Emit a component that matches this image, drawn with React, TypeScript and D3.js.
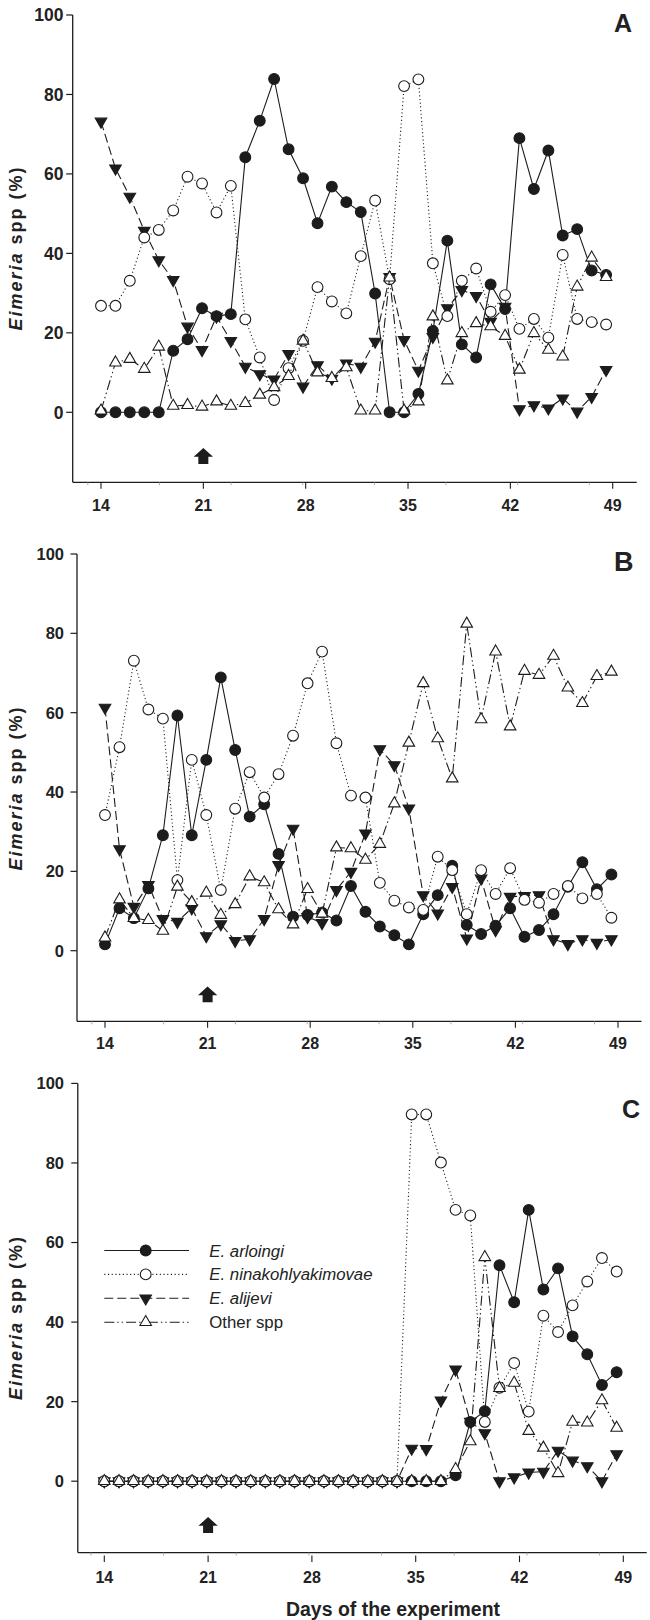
import React from 'react';
import * as d3 from 'd3';

// ---------- data ----------
const days = [
  14.0, 14.99, 15.97, 16.96, 17.95, 18.94, 19.92, 20.91, 21.9, 22.88, 23.87, 24.86,
  25.84, 26.83, 27.82, 28.81, 29.79, 30.78, 31.77, 32.75, 33.74, 34.73, 35.71, 36.7,
  37.69, 38.68, 39.66, 40.65, 41.64, 42.62, 43.61, 44.6, 45.58, 46.57, 47.56, 48.55,
];
const xTickDays = [14, 21, 28, 35, 42, 49];
const xMinorDays = [13.1, 18.0, 22.9, 27.8, 32.7, 37.6, 42.5, 47.4];
const yTickValues = [0, 20, 40, 60, 80, 100];
const arrowDay = 21;

const seriesNames = ['E. arloingi', 'E. ninakohlyakimovae', 'E. alijevi', 'Other spp'];

const arloingiA = [0, 0, 0, 0, 0, 15.5, 18.4, 26.2, 24.2, 24.7, 64.2, 73.4, 83.9, 66.2, 58.9, 47.6, 56.8, 52.9, 50.4, 29.9, 0, 0, 4.6, 20.5, 43.2, 17.1, 13.8, 32.2, 26, 69.0, 56.2, 65.9, 44.5, 46.1, 35.7, 34.6];
const ninakA = [26.8, 26.8, 33.1, 44.0, 45.9, 50.8, 59.3, 57.6, 50.3, 57.0, 23.4, 13.8, 3.1, 11.1, 18.0, 31.5, 27.9, 24.9, 39.3, 53.3, 33.5, 82.1, 83.8, 37.5, 24.2, 33.1, 36.2, 25.3, 29.5, 21.0, 23.5, 18.8, 39.6, 23.5, 22.7, 22.1];
const alijeviA = [73.2, 61.4, 54.3, 45.7, 38.3, 33.3, 21.6, 15.7, 24.1, 18.0, 11.5, 9.6, 8.3, 14.7, 6.5, 11.9, 8.5, 12.3, 11.5, 17.8, 34.1, 18.2, 10.5, 19, 26.2, 30.8, 29.3, 22.8, 26.6, 0.8, 1.8, 1.0, 3.5, 0.2, 3.9, 10.7];
const otherA = [0.4, 12.5, 13.4, 10.9, 16.5, 1.6, 1.8, 1.4, 2.7, 1.6, 2.3, 4.4, 6.3, 9.1, 18.0, 10.0, 8.6, 11.3, 0.4, 0.4, 33.9, 0.4, 2.7, 24.1, 8.0, 19.9, 22.4, 21.6, 19.2, 10.7, 19.9, 15.7, 14.0, 31.6, 38.9, 34.0];

const arloingiB = [1.6, 10.7, 8.2, 15.7, 29.1, 59.3, 29.1, 48.1, 68.9, 50.6, 33.8, 36.9, 24.4, 8.6, 9.0, 9.6, 7.6, 16.3, 9.8, 6.1, 3.9, 1.6, 9.2, 14.0, 21.4, 6.5, 4.2, 6.3, 10.7, 3.5, 5.2, 9.2, 16.1, 22.3, 15.5, 19.2];
const ninakB = [34.2, 51.3, 73.1, 60.8, 58.5, 17.8, 48.1, 34.2, 15.3, 35.8, 45.0, 38.6, 44.5, 54.2, 67.4, 75.4, 52.3, 39.1, 38.6, 17.1, 12.6, 10.9, 10.3, 23.7, 20.3, 9.2, 20.3, 14.3, 20.8, 12.8, 12.1, 14.3, 16.3, 13.2, 14.3, 8.3];
const alijeviB = [61.3, 25.6, 11.1, 16.6, 8.0, 7.3, 10.7, 3.7, 6.7, 2.5, 2.9, 8.0, 21.6, 30.8, 8.5, 7.0, 15.3, 19.9, 29.6, 50.8, 46.8, 35.9, 14.0, 9.4, 16.1, 3.1, 18.2, 5.2, 13.6, 13.8, 14.0, 2.9, 1.7, 2.9, 2.0, 2.9];
const otherB = [3.3, 12.9, 8.2, 7.7, 5.0, 16.1, 12.2, 14.6, 9.0, 11.7, 18.7, 17.2, 10.4, 6.6, 15.5, 9.3, 26.0, 25.8, 22.9, 26.9, 37.1, 52.4, 67.4, 53.5, 43.4, 82.4, 58.3, 75.4, 56.5, 70.5, 69.5, 74.3, 66.3, 62.4, 69.2, 70.3];

const arloingiC = [0, 0, 0, 0, 0, 0, 0, 0, 0, 0, 0, 0, 0, 0, 0, 0, 0, 0, 0, 0, 0, 0, 0, 0, 1.5, 14.9, 17.6, 54.3, 45.0, 68.2, 48.2, 53.5, 36.4, 31.9, 24.2, 27.4];
const ninakC = [0, 0, 0, 0, 0, 0, 0, 0, 0, 0, 0, 0, 0, 0, 0, 0, 0, 0, 0, 0, 0, 92.2, 92.2, 80.1, 68.2, 66.8, 14.9, 23.5, 29.7, 17.5, 41.6, 37.5, 44.2, 50.2, 56.1, 52.7];
const alijeviC = [0, 0, 0, 0, 0, 0, 0, 0, 0, 0, 0, 0, 0, 0, 0, 0, 0, 0, 0, 0, 0, 8.2, 8.1, 20.3, 28.1, 15, 12.1, 0, 1.0, 2.2, 2.4, 7.7, 5.2, 3.8, 0, 6.8];
const otherC = [0, 0, 0, 0, 0, 0, 0, 0, 0, 0, 0, 0, 0, 0, 0, 0, 0, 0, 0, 0, 0, 0, 0, 0, 3.0, 10.0, 56.3, 23.4, 24.7, 12.6, 8.4, 2.0, 14.9, 14.7, 20.3, 13.4];

// ---------- styles & layout ----------
const FONT = "'Liberation Sans', Arial, Helvetica, sans-serif";
const INK = '#1c1c1c';

type MarkerKind = 'circleFilled' | 'circleOpen' | 'triDown' | 'triUp';
const seriesStyle: { dash: string | undefined; marker: MarkerKind }[] = [
  { dash: undefined, marker: 'circleFilled' },
  { dash: '1.1 2.6', marker: 'circleOpen' },
  { dash: '9 4', marker: 'triDown' },
  { dash: '10 3 1.4 3 1.4 3', marker: 'triUp' },
];
// drawing order: arloingi, alijevi, ninakohlyakimovae, other
const drawOrder = [0, 2, 1, 3];

type Layout = {
  left: number; top: number; zero: number; axisY: number;
  x14: number; x49: number; right: number;
  letterX: number; letterY: number; letterSize: number;
  titleY: number; yLabelX: number; yFont: number; xLabelY: number; tickGap: number;
};

const panels: { letter: string; series: number[][]; layout: Layout; legend?: boolean }[] = [
  {
    letter: 'A',
    series: [arloingiA, ninakA, alijeviA, otherA],
    layout: { left: 72.7, top: 15, zero: 412.3, axisY: 482.3, x14: 101, x49: 612.7, right: 636.7,
      letterX: 632, letterY: 31.7, letterSize: 25, titleY: 249, yLabelX: 63.5, yFont: 17.5, xLabelY: 510.7, tickGap: 0 },
  },
  {
    letter: 'B',
    series: [arloingiB, ninakB, alijeviB, otherB],
    layout: { left: 77, top: 554, zero: 950.7, axisY: 1021.3, x14: 105, x49: 618, right: 641.5,
      letterX: 633.5, letterY: 570.5, letterSize: 27, titleY: 789, yLabelX: 64, yFont: 16.5, xLabelY: 1049.3, tickGap: 0 },
  },
  {
    letter: 'C',
    series: [arloingiC, ninakC, alijeviC, otherC],
    layout: { left: 77.8, top: 1083.4, zero: 1481.2, axisY: 1552.6, x14: 104.3, x49: 623.3, right: 646.7,
      letterX: 640, letterY: 1118, letterSize: 25, titleY: 1318.5, yLabelX: 64, yFont: 16.5, xLabelY: 1583, tickGap: 3 },
    legend: true,
  },
];

const triUpPath = d3.symbol(d3.symbolTriangle, 58)() as string;

function Marker({ kind, cx, cy }: { kind: MarkerKind; cx: number; cy: number }) {
  if (kind === 'circleFilled' || kind === 'circleOpen') {
    return (
      <circle cx={cx} cy={cy} r={5.4} fill={kind === 'circleFilled' ? INK : '#fff'} stroke={INK} strokeWidth={1.1} />
    );
  }
  const rot = kind === 'triDown' ? 180 : 0;
  return (
    <path d={triUpPath} transform={`translate(${cx},${cy}) rotate(${rot})`}
      fill={kind === 'triDown' ? INK : '#fff'} stroke={INK} strokeWidth={1.1} strokeLinejoin="miter" />
  );
}

function Panel({ letter, series, layout: L, legend }: { letter: string; series: number[][]; layout: Layout; legend?: boolean }) {
  const x = d3.scaleLinear().domain([14, 49]).range([L.x14, L.x49]);
  const y = d3.scaleLinear().domain([0, 100]).range([L.zero, L.top]);
  const line = d3.line<number>().x((_, i) => x(days[i])).y((v) => y(v));

  const ax = x(arrowDay);
  const aTop = y(-9);
  const aBot = y(-13);
  const headH = (aBot - aTop) * 0.55;
  const arrowPath = `M${ax},${aTop} L${ax + 9.7},${aTop + headH} L${ax + 5},${aTop + headH} L${ax + 5},${aBot} L${ax - 5},${aBot} L${ax - 5},${aTop + headH} L${ax - 9.7},${aTop + headH} Z`;

  return (
    <g>
      {/* axes */}
      <line x1={L.left} x2={L.left} y1={L.top} y2={L.axisY} stroke={INK} strokeWidth={1.3} />
      <line x1={L.left} x2={L.right} y1={L.axisY} y2={L.axisY} stroke={INK} strokeWidth={1.3} />
      {yTickValues.map((t) => (
        <g key={`yt${t}`}>
          <line x1={L.left - 6.5} x2={L.left} y1={y(t)} y2={y(t)} stroke={INK} strokeWidth={1.2} />
          <text x={L.yLabelX} y={y(t)} dy="0.36em" textAnchor="end" fontFamily={FONT} fontWeight="bold"
            fontSize={L.yFont} fill="#222">{t}</text>
        </g>
      ))}
      {xMinorDays.map((d) => (
        <line key={`xm${d}`} x1={x(d)} x2={x(d)} y1={L.axisY} y2={L.axisY + 3} stroke="#9a9a9a" strokeWidth={0.8} />
      ))}
      {xTickDays.map((d) => (
        <g key={`xt${d}`}>
          <line x1={x(d)} x2={x(d)} y1={L.axisY + L.tickGap} y2={L.axisY + L.tickGap + 6.5} stroke={INK} strokeWidth={1.1} />
          <text x={x(d)} y={L.xLabelY} textAnchor="middle" fontFamily={FONT} fontWeight="bold" fontSize={16} fill="#222">{d}</text>
        </g>
      ))}
      {/* y title */}
      <text transform={`translate(21.8,${L.titleY}) rotate(-90)`} textAnchor="middle" fontFamily={FONT}
        fontWeight="bold" fontSize={18} fill="#222" textLength={163} lengthAdjust="spacing">
        <tspan fontStyle="italic">Eimeria</tspan> spp (%)
      </text>
      {/* panel letter */}
      <text x={L.letterX} y={L.letterY} textAnchor="end" fontFamily={FONT} fontWeight="bold" fontSize={L.letterSize} fill="#222">{letter}</text>
      {/* arrow */}
      <path d={arrowPath} fill={INK} />
      {/* series */}
      {drawOrder.map((si) => (
        <g key={`s${si}`}>
          <path d={line(series[si]) as string} fill="none" stroke={INK} strokeWidth={1.1}
            strokeDasharray={seriesStyle[si].dash} />
          {series[si].map((v, i) => (
            <Marker key={i} kind={seriesStyle[si].marker} cx={x(days[i])} cy={y(v)} />
          ))}
        </g>
      ))}
      {legend && (
        <g>
          {seriesNames.map((name, k) => {
            const ly = 1250.5 + k * 23.9;
            return (
              <g key={name}>
                <line x1={104.3} x2={189} y1={ly} y2={ly} stroke={INK} strokeWidth={1.1} strokeDasharray={seriesStyle[k].dash} />
                <Marker kind={seriesStyle[k].marker} cx={145.7} cy={ly} />
                <text x={209.3} y={ly + 6} fontFamily={FONT} fontSize={16.8} fill="#222"
                  fontStyle={k < 3 ? 'italic' : 'normal'}>{name}</text>
              </g>
            );
          })}
        </g>
      )}
    </g>
  );
}

export default function App() {
  return (
    <svg width={650} height={1620} viewBox="0 0 650 1620"
      style={{ position: 'absolute', left: 0, top: 0, background: '#fff' }}>
      <rect x={0} y={0} width={650} height={1620} fill="#fff" />
      {panels.map((p) => (
        <Panel key={p.letter} letter={p.letter} series={p.series} layout={p.layout} legend={p.legend} />
      ))}
      <text x={286} y={1616} fontFamily={FONT} fontWeight="bold" fontSize={19.5} fill="#222"
        textLength={214} lengthAdjust="spacingAndGlyphs">Days of the experiment</text>
    </svg>
  );
}
